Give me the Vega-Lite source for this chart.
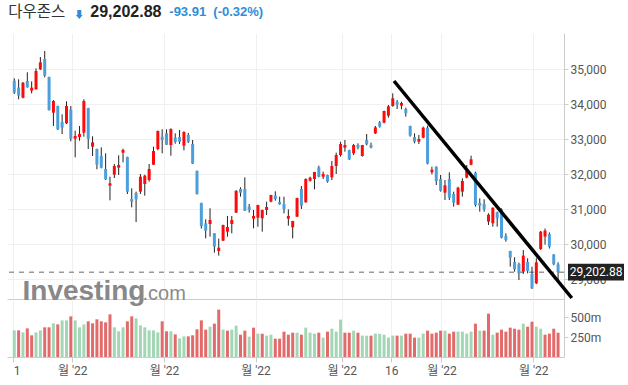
{
  "$schema": "https://vega.github.io/schema/vega-lite/v6.json",
  "autosize": {"type": "pad"},
  "padding": {"left": 6, "top": 4, "right": 0, "bottom": 0},
  "background": "#ffffff",
  "spacing": 0,
  "bounds": "flush",
  "config": {"view": {"stroke": null}, "concat": {"spacing": 0}},
  "datasets": {
    "ohlc": [
      {"i":0,"date":"2022-04-11","open":34675,"high":34742,"low":34294,"close":34332,"vol":333,"vc":"g"},
      {"i":1,"date":"2022-04-12","open":34475,"high":34713,"low":34142,"close":34247,"vol":333,"vc":"r"},
      {"i":2,"date":"2022-04-13","open":34189,"high":34637,"low":34170,"close":34618,"vol":308,"vc":"g"},
      {"i":3,"date":"2022-04-14","open":34666,"high":34913,"low":34475,"close":34485,"vol":358,"vc":"r"},
      {"i":4,"date":"2022-04-18","open":34389,"high":34656,"low":34313,"close":34475,"vol":271,"vc":"r"},
      {"i":5,"date":"2022-04-19","open":34428,"high":35027,"low":34418,"close":34951,"vol":308,"vc":"g"},
      {"i":6,"date":"2022-04-20","open":34999,"high":35351,"low":34980,"close":35199,"vol":333,"vc":"g"},
      {"i":7,"date":"2022-04-21","open":35294,"high":35523,"low":34770,"close":34818,"vol":371,"vc":"r"},
      {"i":8,"date":"2022-04-22","open":34780,"high":34789,"low":33818,"close":33837,"vol":371,"vc":"r"},
      {"i":9,"date":"2022-04-25","open":33761,"high":34123,"low":33380,"close":34094,"vol":421,"vc":"g"},
      {"i":10,"date":"2022-04-26","open":33951,"high":33961,"low":33266,"close":33285,"vol":408,"vc":"r"},
      {"i":11,"date":"2022-04-27","open":33494,"high":33713,"low":33151,"close":33332,"vol":458,"vc":"g"},
      {"i":12,"date":"2022-04-28","open":33456,"high":34085,"low":33437,"close":33951,"vol":458,"vc":"g"},
      {"i":13,"date":"2022-04-29","open":33847,"high":33951,"low":32942,"close":33018,"vol":508,"vc":"r"},
      {"i":14,"date":"2022-05-02","open":33018,"high":33247,"low":32485,"close":33094,"vol":458,"vc":"g"},
      {"i":15,"date":"2022-05-03","open":33066,"high":33380,"low":32961,"close":33151,"vol":371,"vc":"g"},
      {"i":16,"date":"2022-05-04","open":33189,"high":34142,"low":33075,"close":34094,"vol":408,"vc":"g"},
      {"i":17,"date":"2022-05-05","open":33894,"high":33900,"low":32723,"close":33018,"vol":446,"vc":"r"},
      {"i":18,"date":"2022-05-06","open":32789,"high":33085,"low":32523,"close":32913,"vol":421,"vc":"r"},
      {"i":19,"date":"2022-05-09","open":32723,"high":32732,"low":32142,"close":32275,"vol":471,"vc":"r"},
      {"i":20,"date":"2022-05-10","open":32523,"high":32770,"low":32170,"close":32189,"vol":446,"vc":"r"},
      {"i":21,"date":"2022-05-11","open":32151,"high":32599,"low":31837,"close":31856,"vol":433,"vc":"r"},
      {"i":22,"date":"2022-05-12","open":31675,"high":31932,"low":31256,"close":31742,"vol":533,"vc":"r"},
      {"i":23,"date":"2022-05-13","open":31989,"high":32294,"low":31894,"close":32237,"vol":371,"vc":"g"},
      {"i":24,"date":"2022-05-16","open":32189,"high":32542,"low":31980,"close":32266,"vol":321,"vc":"g"},
      {"i":25,"date":"2022-05-17","open":32618,"high":32732,"low":32342,"close":32694,"vol":371,"vc":"g"},
      {"i":26,"date":"2022-05-18","open":32494,"high":32504,"low":31437,"close":31504,"vol":446,"vc":"r"},
      {"i":27,"date":"2022-05-19","open":31294,"high":31599,"low":31056,"close":31218,"vol":508,"vc":"r"},
      {"i":28,"date":"2022-05-20","open":31466,"high":31504,"low":30635,"close":31285,"vol":483,"vc":"g"},
      {"i":29,"date":"2022-05-23","open":31504,"high":32008,"low":31437,"close":31932,"vol":396,"vc":"g"},
      {"i":30,"date":"2022-05-24","open":31723,"high":31989,"low":31389,"close":31961,"vol":371,"vc":"g"},
      {"i":31,"date":"2022-05-25","open":31837,"high":32294,"low":31789,"close":32151,"vol":333,"vc":"g"},
      {"i":32,"date":"2022-05-26","open":32275,"high":32789,"low":32266,"close":32666,"vol":333,"vc":"g"},
      {"i":33,"date":"2022-05-27","open":32723,"high":33250,"low":32685,"close":33237,"vol":308,"vc":"g"},
      {"i":34,"date":"2022-05-31","open":33075,"high":33285,"low":32599,"close":32980,"vol":446,"vc":"r"},
      {"i":35,"date":"2022-06-01","open":33170,"high":33285,"low":32837,"close":32847,"vol":321,"vc":"r"},
      {"i":36,"date":"2022-06-02","open":32837,"high":33313,"low":32532,"close":33294,"vol":321,"vc":"g"},
      {"i":37,"date":"2022-06-03","open":33047,"high":33170,"low":32875,"close":32923,"vol":283,"vc":"r"},
      {"i":38,"date":"2022-06-06","open":33066,"high":33266,"low":32866,"close":32933,"vol":233,"vc":"g"},
      {"i":39,"date":"2022-06-07","open":32818,"high":33228,"low":32685,"close":33208,"vol":258,"vc":"g"},
      {"i":40,"date":"2022-06-08","open":33123,"high":33180,"low":32894,"close":32933,"vol":258,"vc":"r"},
      {"i":41,"date":"2022-06-09","open":32866,"high":32980,"low":32294,"close":32304,"vol":271,"vc":"r"},
      {"i":42,"date":"2022-06-10","open":32094,"high":32110,"low":31420,"close":31440,"vol":346,"vc":"r"},
      {"i":43,"date":"2022-06-13","open":31180,"high":31190,"low":30450,"close":30520,"vol":458,"vc":"r"},
      {"i":44,"date":"2022-06-14","open":30599,"high":30713,"low":30170,"close":30389,"vol":342,"vc":"r"},
      {"i":45,"date":"2022-06-15","open":30580,"high":31027,"low":30218,"close":30694,"vol":379,"vc":"g"},
      {"i":46,"date":"2022-06-16","open":30313,"high":30320,"low":29761,"close":29932,"vol":417,"vc":"r"},
      {"i":47,"date":"2022-06-17","open":29808,"high":30161,"low":29675,"close":29903,"vol":592,"vc":"r"},
      {"i":48,"date":"2022-06-21","open":30103,"high":30560,"low":30095,"close":30551,"vol":342,"vc":"g"},
      {"i":49,"date":"2022-06-22","open":30361,"high":30808,"low":30218,"close":30494,"vol":329,"vc":"r"},
      {"i":50,"date":"2022-06-23","open":30580,"high":30808,"low":30313,"close":30694,"vol":342,"vc":"g"},
      {"i":51,"date":"2022-06-24","open":30904,"high":31551,"low":30900,"close":31523,"vol":392,"vc":"g"},
      {"i":52,"date":"2022-06-27","open":31580,"high":31627,"low":31361,"close":31475,"vol":279,"vc":"r"},
      {"i":53,"date":"2022-06-28","open":31580,"high":31913,"low":30950,"close":30961,"vol":329,"vc":"r"},
      {"i":54,"date":"2022-06-29","open":31075,"high":31151,"low":30904,"close":30980,"vol":254,"vc":"g"},
      {"i":55,"date":"2022-06-30","open":30732,"high":30980,"low":30456,"close":30808,"vol":367,"vc":"r"},
      {"i":56,"date":"2022-07-01","open":30761,"high":31130,"low":30503,"close":31123,"vol":292,"vc":"g"},
      {"i":57,"date":"2022-07-05","open":30742,"high":30990,"low":30361,"close":30980,"vol":292,"vc":"r"},
      {"i":58,"date":"2022-07-06","open":30980,"high":31218,"low":30837,"close":31065,"vol":267,"vc":"g"},
      {"i":59,"date":"2022-07-07","open":31218,"high":31415,"low":31199,"close":31408,"vol":279,"vc":"g"},
      {"i":60,"date":"2022-07-08","open":31389,"high":31513,"low":31246,"close":31294,"vol":229,"vc":"r"},
      {"i":61,"date":"2022-07-11","open":31208,"high":31361,"low":31130,"close":31141,"vol":229,"vc":"r"},
      {"i":62,"date":"2022-07-12","open":31151,"high":31361,"low":30884,"close":31008,"vol":317,"vc":"r"},
      {"i":63,"date":"2022-07-13","open":30732,"high":30999,"low":30532,"close":30808,"vol":279,"vc":"r"},
      {"i":64,"date":"2022-07-14","open":30484,"high":30670,"low":30170,"close":30665,"vol":304,"vc":"r"},
      {"i":65,"date":"2022-07-15","open":30789,"high":31330,"low":30780,"close":31323,"vol":304,"vc":"g"},
      {"i":66,"date":"2022-07-18","open":31580,"high":31665,"low":31008,"close":31103,"vol":279,"vc":"r"},
      {"i":67,"date":"2022-07-19","open":31199,"high":31884,"low":31190,"close":31865,"vol":367,"vc":"g"},
      {"i":68,"date":"2022-07-20","open":31818,"high":31932,"low":31789,"close":31904,"vol":304,"vc":"g"},
      {"i":69,"date":"2022-07-21","open":31865,"high":32070,"low":31570,"close":32065,"vol":292,"vc":"g"},
      {"i":70,"date":"2022-07-22","open":32199,"high":32246,"low":31913,"close":31932,"vol":304,"vc":"r"},
      {"i":71,"date":"2022-07-25","open":31932,"high":32075,"low":31865,"close":32008,"vol":242,"vc":"g"},
      {"i":72,"date":"2022-07-26","open":31980,"high":31990,"low":31761,"close":31789,"vol":317,"vc":"r"},
      {"i":73,"date":"2022-07-27","open":31913,"high":32380,"low":31837,"close":32237,"vol":354,"vc":"g"},
      {"i":74,"date":"2022-07-28","open":32237,"high":32618,"low":32008,"close":32551,"vol":317,"vc":"g"},
      {"i":75,"date":"2022-07-29","open":32551,"high":32932,"low":32504,"close":32865,"vol":467,"vc":"g"},
      {"i":76,"date":"2022-08-01","open":32761,"high":32980,"low":32646,"close":32837,"vol":304,"vc":"r"},
      {"i":77,"date":"2022-08-02","open":32694,"high":32700,"low":32408,"close":32427,"vol":304,"vc":"r"},
      {"i":78,"date":"2022-08-03","open":32599,"high":32865,"low":32551,"close":32837,"vol":329,"vc":"g"},
      {"i":79,"date":"2022-08-04","open":32837,"high":32884,"low":32713,"close":32761,"vol":304,"vc":"r"},
      {"i":80,"date":"2022-08-05","open":32523,"high":32840,"low":32504,"close":32837,"vol":267,"vc":"g"},
      {"i":81,"date":"2022-08-08","open":32980,"high":33151,"low":32827,"close":32856,"vol":267,"vc":"g"},
      {"i":82,"date":"2022-08-09","open":32837,"high":32904,"low":32742,"close":32761,"vol":267,"vc":"r"},
      {"i":83,"date":"2022-08-10","open":33170,"high":33380,"low":33151,"close":33342,"vol":292,"vc":"g"},
      {"i":84,"date":"2022-08-11","open":33484,"high":33523,"low":33332,"close":33361,"vol":290,"vc":"g"},
      {"i":85,"date":"2022-08-12","open":33475,"high":33818,"low":33456,"close":33808,"vol":279,"vc":"g"},
      {"i":86,"date":"2022-08-15","open":33675,"high":33980,"low":33618,"close":33942,"vol":242,"vc":"g"},
      {"i":87,"date":"2022-08-16","open":33951,"high":34313,"low":33932,"close":34170,"vol":267,"vc":"g"},
      {"i":88,"date":"2022-08-17","open":34065,"high":34123,"low":33865,"close":33989,"vol":267,"vc":"r"},
      {"i":89,"date":"2022-08-18","open":33961,"high":34075,"low":33856,"close":34037,"vol":267,"vc":"g"},
      {"i":90,"date":"2022-08-19","open":33865,"high":33904,"low":33646,"close":33742,"vol":292,"vc":"r"},
      {"i":91,"date":"2022-08-22","open":33380,"high":33390,"low":33075,"close":33104,"vol":292,"vc":"r"},
      {"i":92,"date":"2022-08-23","open":33066,"high":33170,"low":32885,"close":32932,"vol":242,"vc":"r"},
      {"i":93,"date":"2022-08-24","open":32932,"high":33123,"low":32866,"close":33009,"vol":242,"vc":"g"},
      {"i":94,"date":"2022-08-25","open":33047,"high":33361,"low":33028,"close":33332,"vol":292,"vc":"g"},
      {"i":95,"date":"2022-08-26","open":33332,"high":33390,"low":32285,"close":32304,"vol":329,"vc":"r"},
      {"i":96,"date":"2022-08-29","open":32056,"high":32218,"low":31999,"close":32132,"vol":292,"vc":"r"},
      {"i":97,"date":"2022-08-30","open":32218,"high":32225,"low":31694,"close":31809,"vol":304,"vc":"r"},
      {"i":98,"date":"2022-08-31","open":31866,"high":31980,"low":31504,"close":31532,"vol":329,"vc":"r"},
      {"i":99,"date":"2022-09-01","open":31475,"high":31837,"low":31266,"close":31685,"vol":329,"vc":"g"},
      {"i":100,"date":"2022-09-02","open":31866,"high":32056,"low":31266,"close":31332,"vol":292,"vc":"r"},
      {"i":101,"date":"2022-09-06","open":31437,"high":31504,"low":31075,"close":31190,"vol":317,"vc":"r"},
      {"i":102,"date":"2022-09-07","open":31132,"high":31647,"low":31125,"close":31618,"vol":317,"vc":"g"},
      {"i":103,"date":"2022-09-08","open":31504,"high":31885,"low":31361,"close":31809,"vol":317,"vc":"g"},
      {"i":104,"date":"2022-09-09","open":31904,"high":32266,"low":31885,"close":32113,"vol":292,"vc":"g"},
      {"i":105,"date":"2022-09-12","open":32275,"high":32532,"low":32256,"close":32428,"vol":317,"vc":"g"},
      {"i":106,"date":"2022-09-13","open":32047,"high":32075,"low":31075,"close":31123,"vol":417,"vc":"r"},
      {"i":107,"date":"2022-09-14","open":31180,"high":31313,"low":30932,"close":31104,"vol":329,"vc":"g"},
      {"i":108,"date":"2022-09-15","open":31151,"high":31285,"low":30932,"close":30999,"vol":329,"vc":"r"},
      {"i":109,"date":"2022-09-16","open":30647,"high":30885,"low":30551,"close":30847,"vol":542,"vc":"r"},
      {"i":110,"date":"2022-09-19","open":30599,"high":31050,"low":30504,"close":31047,"vol":279,"vc":"g"},
      {"i":111,"date":"2022-09-20","open":30913,"high":30932,"low":30504,"close":30742,"vol":304,"vc":"r"},
      {"i":112,"date":"2022-09-21","open":30999,"high":31028,"low":30170,"close":30189,"vol":342,"vc":"r"},
      {"i":113,"date":"2022-09-22","open":30237,"high":30313,"low":30075,"close":30123,"vol":317,"vc":"r"},
      {"i":114,"date":"2022-09-23","open":29808,"high":29815,"low":29361,"close":29618,"vol":367,"vc":"r"},
      {"i":115,"date":"2022-09-26","open":29494,"high":29628,"low":29218,"close":29285,"vol":354,"vc":"r"},
      {"i":116,"date":"2022-09-27","open":29437,"high":29475,"low":28980,"close":29170,"vol":342,"vc":"r"},
      {"i":117,"date":"2022-09-28","open":29218,"high":29837,"low":29151,"close":29675,"vol":417,"vc":"g"},
      {"i":118,"date":"2022-09-29","open":29494,"high":29599,"low":29170,"close":29237,"vol":379,"vc":"r"},
      {"i":119,"date":"2022-09-30","open":29151,"high":29361,"low":28723,"close":28742,"vol":442,"vc":"r"},
      {"i":120,"date":"2022-10-03","open":28885,"high":29599,"low":28866,"close":29485,"vol":379,"vc":"g"},
      {"i":121,"date":"2022-10-04","open":29863,"high":30380,"low":29840,"close":30360,"vol":354,"vc":"g"},
      {"i":122,"date":"2022-10-05","open":30220,"high":30450,"low":29990,"close":30390,"vol":279,"vc":"r"},
      {"i":123,"date":"2022-10-06","open":30290,"high":30340,"low":29880,"close":29932,"vol":292,"vc":"r"},
      {"i":124,"date":"2022-10-07","open":29710,"high":29720,"low":29400,"close":29430,"vol":354,"vc":"r"},
      {"i":125,"date":"2022-10-10","open":29428,"high":29486,"low":28980,"close":29202.88,"vol":304,"vc":"r"}
    ]
  },
  "vconcat": [
    {
      "width": 557,
      "height": 266,
      "layer": [
        {
          "data": {"values": [{"last": 29202.88}]},
          "mark": {"type": "rule", "color": "#999999", "strokeWidth": 1.5, "strokeDash": [5, 5]},
          "encoding": {
            "y": {"field": "last", "type": "quantitative", "scale": {"domain": [28437, 36037], "nice": false, "zero": false}}
          }
        },
        {
          "data": {"name": "ohlc"},
          "mark": {"type": "rule", "color": "#222222", "strokeWidth": 1},
          "encoding": {
            "x": {"field": "i", "type": "quantitative", "scale": {"domain": [-0.52, 125.21], "nice": false, "zero": false},
              "axis": {"orient": "bottom", "values": [-0.22, 13.32, 34.4, 55.46, 75.26, 86.68, 98.19, 119.28], "labels": false, "ticks": false, "domain": true, "domainColor": "#cccccc", "grid": true, "gridColor": "#f0f0f0", "title": null}},
            "y": {"field": "low", "type": "quantitative", "scale": {"domain": [28437, 36037], "nice": false, "zero": false},
              "axis": {"orient": "right", "values": [29000, 30000, 31000, 32000, 33000, 34000, 35000], "labelExpr": "format(datum.value, ',')", "grid": true, "gridColor": "#f0f0f0", "domainColor": "#cccccc", "tickColor": "#cccccc", "tickSize": 4, "labelPadding": 2, "labelColor": "#555555", "labelFont": "Roboto", "labelFontSize": 12, "title": null}},
            "y2": {"field": "high"}
          }
        },
        {
          "data": {"name": "ohlc"},
          "mark": {"type": "bar", "size": 3},
          "encoding": {
            "x": {"field": "i", "type": "quantitative", "scale": {"domain": [-0.52, 125.21], "nice": false, "zero": false}},
            "y": {"field": "open", "type": "quantitative", "scale": {"domain": [28437, 36037], "nice": false, "zero": false}},
            "y2": {"field": "close"},
            "color": {"condition": {"test": "datum.close >= datum.open", "value": "#ff0a0a"}, "value": "#4a9fdc"}
          }
        },
        {
          "data": {"values": [{"ti": 87.29, "tp": 34666}, {"ti": 128.15, "tp": 28466}]},
          "mark": {"type": "line", "color": "#000000", "strokeWidth": 3.5, "clip": false},
          "encoding": {
            "x": {"field": "ti", "type": "quantitative", "scale": {"domain": [-0.52, 125.21], "nice": false, "zero": false}},
            "y": {"field": "tp", "type": "quantitative", "scale": {"domain": [28437, 36037], "nice": false, "zero": false}}
          }
        },
        {
          "data": {"values": [{"last": 29202.88}]},
          "mark": {"type": "point", "shape": "M-1,-0.3L1,-0.3L1,0.3L-1,0.3Z", "size": 3136, "filled": true, "color": "#222222", "opacity": 1, "clip": false},
          "encoding": {
            "x": {"value": 589},
            "y": {"field": "last", "type": "quantitative"}
          }
        },
        {
          "data": {"values": [{"last": 29202.88}]},
          "mark": {"type": "text", "color": "#ffffff", "font": "Roboto", "fontSize": 12, "align": "center", "baseline": "middle", "clip": false},
          "encoding": {
            "x": {"value": 589},
            "y": {"field": "last", "type": "quantitative"},
            "text": {"value": "29,202.88"}
          }
        },
        {
          "data": {"values": [{}]},
          "mark": {"type": "text", "color": "#888888", "font": "Liberation Sans", "fontSize": 28, "fontWeight": "bold", "align": "left", "baseline": "alphabetic"},
          "encoding": {"x": {"value": 15.5}, "y": {"value": 267}, "text": {"value": "Investing"}}
        },
        {
          "data": {"values": [{}]},
          "mark": {"type": "text", "color": "#8a8a8a", "font": "Liberation Sans", "fontSize": 20, "align": "left", "baseline": "alphabetic"},
          "encoding": {"x": {"value": 135.5}, "y": {"value": 267}, "text": {"value": ".com"}}
        },
        {
          "data": {"values": [{}]},
          "mark": {"type": "text", "color": "#333333", "font": "Noto Sans CJK KR", "fontSize": 15.5, "align": "left", "baseline": "middle"},
          "encoding": {"x": {"value": 1.3}, "y": {"value": -21}, "text": {"value": "다우존스"}}
        },
        {
          "data": {"values": [{}]},
          "mark": {"type": "point", "shape": "M-0.5,-1.2L0.5,-1.2L0.5,0.1L0.85,0.1L0,1.1L-0.85,0.1L-0.5,0.1Z", "size": 64, "filled": true, "color": "#2f8ddb", "opacity": 1},
          "encoding": {"x": {"value": 72.3}, "y": {"value": -18.3}}
        },
        {
          "data": {"values": [{}]},
          "mark": {"type": "text", "color": "#222222", "font": "Liberation Sans", "fontSize": 16, "fontWeight": "bold", "align": "left", "baseline": "middle"},
          "encoding": {"x": {"value": 83.3}, "y": {"value": -21}, "text": {"value": "29,202.88"}}
        },
        {
          "data": {"values": [{}]},
          "mark": {"type": "text", "color": "#2f8ddb", "font": "Liberation Sans", "fontSize": 13, "fontWeight": "bold", "align": "left", "baseline": "middle"},
          "encoding": {"x": {"value": 162.3}, "y": {"value": -21}, "text": {"value": "-93.91"}}
        },
        {
          "data": {"values": [{}]},
          "mark": {"type": "text", "color": "#2f8ddb", "font": "Liberation Sans", "fontSize": 13, "fontWeight": "bold", "align": "left", "baseline": "middle"},
          "encoding": {"x": {"value": 206.3}, "y": {"value": -21}, "text": {"value": "(-0.32%)"}}
        }
      ]
    },
    {
      "width": 557,
      "height": 58,
      "data": {"name": "ohlc"},
      "mark": {"type": "bar", "size": 3},
      "encoding": {
        "x": {"field": "i", "type": "quantitative", "scale": {"domain": [-0.52, 125.21], "nice": false, "zero": false},
          "axis": {"values": [-0.22, 13.32, 34.4, 55.46, 75.26, 86.68, 98.19, 119.28],
            "labelExpr": "datum.value < 0 ? '1' : (datum.value > 86 && datum.value < 87) ? '16' : \"월 '22\"",
            "labelAlign": {"condition": {"test": "datum.value < 0", "value": "left"}, "value": "center"},
            "labelFlush": false, "labelOverlap": false,
            "grid": true, "gridColor": "#f0f0f0", "domainColor": "#cccccc", "tickColor": "#cccccc", "tickSize": 5, "labelPadding": 3,
            "labelColor": "#555555", "labelFont": "Roboto, Noto Sans CJK KR", "labelFontSize": 12, "title": null}},
        "y": {"field": "vol", "type": "quantitative", "scale": {"domain": [0, 725], "nice": false},
          "axis": {"orient": "right", "values": [250, 500], "labelExpr": "datum.value + 'm'", "grid": false, "domainColor": "#cccccc", "tickColor": "#cccccc", "tickSize": 4, "labelPadding": 2, "labelColor": "#555555", "labelFont": "Roboto", "labelFontSize": 12, "title": null}},
        "color": {"field": "vc", "type": "nominal", "scale": {"domain": ["g", "r"], "range": ["#a3d6b5", "#e26a6a"]}, "legend": null}
      }
    }
  ]
}
